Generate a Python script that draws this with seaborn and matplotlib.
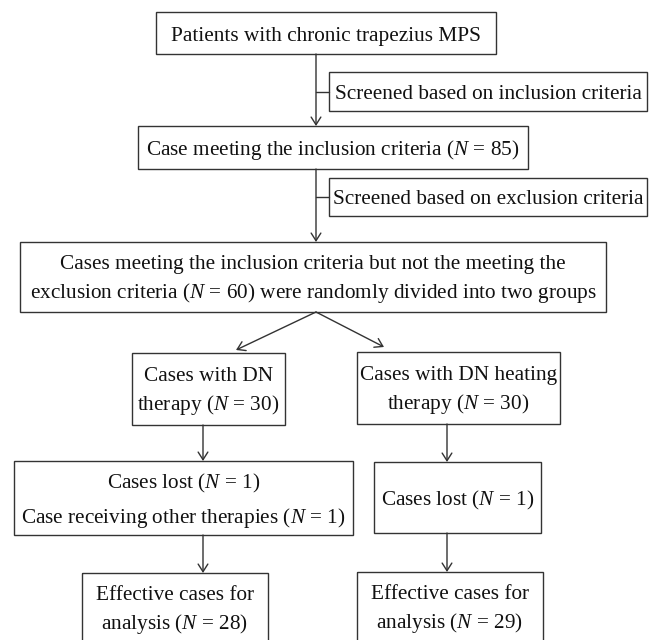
import matplotlib
matplotlib.use('Agg')

import matplotlib.pyplot as plt
from matplotlib.patches import Rectangle, FancyArrowPatch
import seaborn as sns

# Datos del diagrama de flujo
pasos = [
    'Patients with chronic trapezius MPS',
    'Screened based on inclusion criteria',
    'Case meeting the inclusion criteria',
    'Screened based on exclusion criteria',
    'Cases meeting the inclusion criteria but not the meeting the\nexclusion criteria',
    'Cases with DN\ntherapy',
    'Cases with DN heating\ntherapy',
    'Cases lost',
    'Case receiving other therapies',
    'Effective cases for\nanalysis',
]
n_incluidos = 85
n_aleatorizados = 60
n_grupos = [30, 30]
n_perdidos = [1, 1]
n_otras_terapias = 1
n_efectivos = [28, 29]


def n_txt(n):
    return f'($N$ = {n})'


textos = {
    'inicio': pasos[0],
    'criterio_inc': pasos[1],
    'incluidos': f'{pasos[2]} {n_txt(n_incluidos)}',
    'criterio_exc': pasos[3],
    'aleatorizados': f'{pasos[4]} {n_txt(n_aleatorizados)} were randomly divided into two groups',
    'grupo_dn': f'{pasos[5]} {n_txt(n_grupos[0])}',
    'grupo_calor': f'{pasos[6]} {n_txt(n_grupos[1])}',
    'perdidos_dn': f'{pasos[7]} {n_txt(n_perdidos[0])}\n{pasos[8]} {n_txt(n_otras_terapias)}',
    'perdidos_calor': f'{pasos[7]} {n_txt(n_perdidos[1])}',
    'efectivos_dn': f'{pasos[9]} {n_txt(n_efectivos[0])}',
    'efectivos_calor': f'{pasos[9]} {n_txt(n_efectivos[1])}',
}

# Posiciones de las cajas en pixeles (x0, y0, x1, y1), y hacia abajo
cajas = {
    'inicio': (156, 12, 496, 54),
    'criterio_inc': (329, 72, 647, 111),
    'incluidos': (138, 126, 528, 169),
    'criterio_exc': (329, 178, 647, 216),
    'aleatorizados': (20, 242, 606, 312),
    'grupo_dn': (132, 353, 285, 425),
    'grupo_calor': (357, 352, 560, 424),
    'perdidos_dn': (14, 461, 353, 535),
    'perdidos_calor': (374, 462, 541, 533),
    'efectivos_dn': (82, 573, 268, 643),
    'efectivos_calor': (357, 572, 543, 642),
}

flechas = [
    ((316, 54), (316, 126)),
    ((316, 169), (316, 242)),
    ((316, 312), (236, 350)),
    ((316, 312), (384, 347)),
    ((203, 425), (203, 461)),
    ((447, 424), (447, 462)),
    ((203, 535), (203, 573)),
    ((447, 533), (447, 572)),
]
ramas = [((316, 91.5), (329, 91.5)), ((316, 197), (329, 197))]

sns.set_theme(style='white')
plt.rcParams['font.family'] = ['Liberation Serif', 'DejaVu Serif']
plt.rcParams['mathtext.fontset'] = 'custom'
plt.rcParams['mathtext.rm'] = 'Liberation Serif'
plt.rcParams['mathtext.it'] = 'Liberation Serif:italic'

color_linea = '#333333'
color_texto = '#111111'

fig = plt.figure(figsize=(6.51, 6.40), dpi=100)
ax = fig.add_axes([0, 0, 1, 1])
ax.set_xlim(0, 651)
ax.set_ylim(640, 0)
ax.axis('off')

for clave, (x0, y0, x1, y1) in cajas.items():
    ax.add_patch(Rectangle((x0, y0), x1 - x0, y1 - y0, fill=False,
                           ec=color_linea, lw=1.0))
    interlineado = 1.62 if clave == 'perdidos_dn' else 1.42
    # el texto queda un poco alto con va='center', se baja unos pixeles
    ax.text((x0 + x1) / 2, (y0 + y1) / 2 + 3, textos[clave], ha='center', va='center',
            fontsize=15.3, color=color_texto, linespacing=interlineado,
            multialignment='center')

for ini, fin in flechas:
    ax.add_patch(FancyArrowPatch(ini, fin, arrowstyle='->,head_length=0.55,head_width=0.35',
                                 mutation_scale=10, lw=1.0, color=color_linea,
                                 shrinkA=0, shrinkB=0))

for (xa, ya), (xb, yb) in ramas:
    ax.plot([xa, xb], [ya, yb], color=color_linea, lw=1.0)

fig.savefig('out.png', dpi=100)
plt.close(fig)
